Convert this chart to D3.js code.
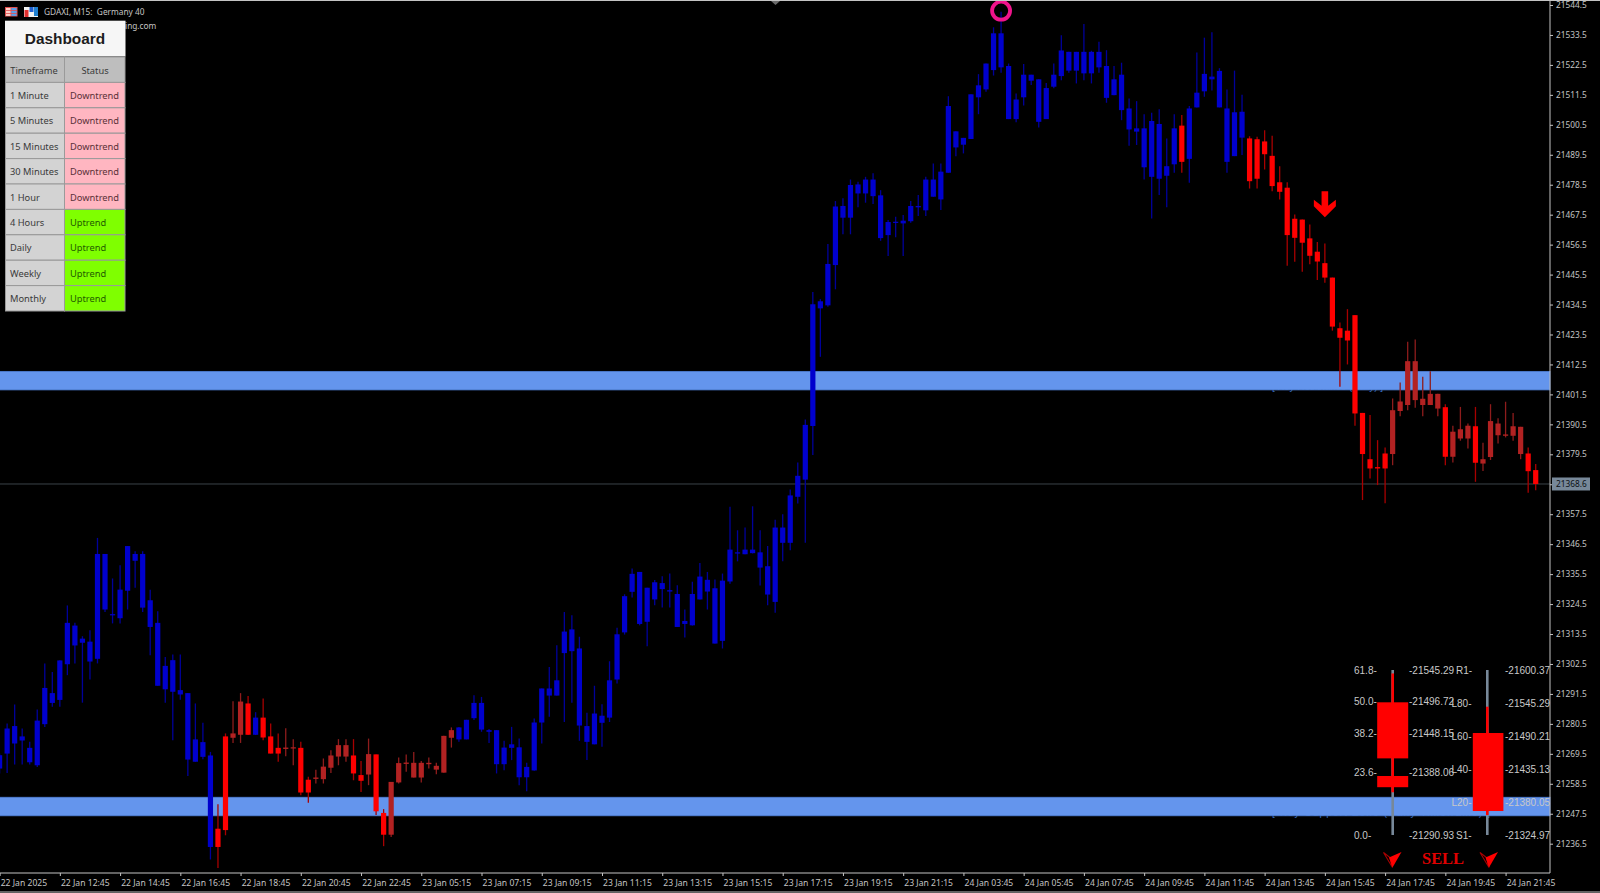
<!DOCTYPE html>
<html><head><meta charset="utf-8">
<script src="https://cdn.jsdelivr.net/npm/d3@7"></script>
<style>html,body{margin:0;padding:0;background:#000;overflow:hidden}svg{display:block}</style>
</head><body><svg id="c" width="1600" height="893" font-family="'Liberation Sans',Arial,sans-serif"></svg>
<script>
// Candle data, one row of ten bars per line (15-minute bars, index 0..204)
const highs=[21269.6,21280.6,21287.6,21278.8,21273.9,21285.8,21302.7,21299.6,21303.9,21324.0,
21317.6,21312.7,21314.9,21348.8,21342.9,21333.9,21338.8,21345.8,21343.9,21343.9,
21329.8,21321.9,21305.1,21306.0,21306.0,21291.8,21288.0,21280.9,21270.2,21251.0,
21277.0,21288.8,21291.8,21290.7,21284.8,21289.8,21280.6,21277.0,21278.9,21274.9,
21273.9,21261.1,21263.7,21267.8,21270.8,21274.9,21274.9,21274.9,21266.9,21275.1,
21269.3,21249.2,21259.2,21268.2,21269.3,21270.2,21266.9,21268.2,21266.2,21276.1,
21279.2,21279.4,21282.0,21291.0,21290.4,21278.6,21278.2,21274.3,21279.4,21275.1,
21266.2,21282.5,21293.5,21301.4,21309.4,21321.6,21320.4,21312.5,21284.6,21294.5,
21287.7,21303.5,21315.8,21328.1,21337.6,21336.3,21330.5,21333.3,21334.7,21335.7,
21331.4,21322.5,21332.7,21339.6,21336.3,21333.5,21335.7,21360.2,21351.6,21352.6,
21360.4,21351.6,21345.8,21355.5,21357.5,21366.6,21376.5,21392.3,21439.1,21436.5,
21456.7,21472.5,21473.5,21480.4,21479.6,21481.4,21482.7,21476.5,21465.5,21466.7,
21467.4,21472.5,21474.7,21481.4,21486.3,21486.3,21511.0,21498.1,21495.7,21511.7,
21519.1,21523.0,21536.3,21542.0,21523.0,21512.0,21522.8,21518.9,21517.2,21515.9,
21523.0,21533.4,21527.3,21527.3,21537.5,21527.7,21531.0,21527.9,21522.1,21523.3,
21510.2,21509.2,21504.4,21504.9,21506.2,21495.5,21504.4,21504.1,21507.4,21527.1,
21532.5,21534.5,21521.3,21513.5,21520.4,21511.5,21496.3,21496.1,21498.5,21496.5,
21485.3,21479.4,21467.6,21465.7,21463.9,21457.5,21456.9,21444.4,21427.9,21432.8,
21430.6,21394.7,21393.9,21384.7,21382.0,21400.0,21405.9,21420.8,21421.7,21408.0,
21410.0,21401.7,21397.9,21390.0,21396.9,21390.8,21396.9,21383.7,21397.9,21392.7,
21398.8,21394.7,21389.6,21382.0,21375.9];
const bodyTops=[21269.0,21278.8,21279.7,21275.9,21271.7,21281.7,21293.7,21291.8,21303.8,21317.6,
21316.6,21311.8,21310.7,21342.9,21342.9,21320.8,21329.8,21345.8,21342.9,21342.9,
21325.9,21317.6,21301.8,21303.9,21292.9,21291.8,21274.8,21273.8,21268.9,21242.0,
21275.9,21277.0,21288.7,21288.0,21282.8,21282.8,21275.9,21271.7,21271.8,21271.9,
21271.7,21260.0,21260.8,21264.8,21268.9,21272.7,21272.7,21268.9,21261.7,21269.4,
21269.3,21247.8,21259.2,21266.1,21266.3,21266.2,21266.2,21266.2,21265.1,21276.1,
21278.2,21279.2,21282.0,21288.2,21288.2,21278.2,21278.2,21271.8,21273.0,21271.9,
21264.7,21281.0,21293.5,21293.5,21296.5,21314.4,21315.2,21308.2,21279.7,21284.3,
21283.5,21296.5,21313.4,21327.4,21335.6,21336.3,21330.5,21332.5,21332.2,21329.6,
21328.2,21318.3,21328.2,21334.6,21333.4,21330.3,21333.1,21344.5,21343.5,21344.5,
21344.5,21343.5,21338.4,21352.6,21352.6,21364.4,21371.6,21390.3,21434.6,21435.7,
21449.4,21470.5,21470.7,21478.4,21478.6,21480.4,21480.4,21474.6,21464.8,21464.9,
21465.3,21470.7,21470.7,21480.4,21480.4,21483.3,21507.4,21498.1,21495.7,21511.7,
21515.0,21523.0,21534.1,21534.1,21522.1,21509.8,21518.9,21518.9,21517.2,21514.0,
21518.9,21527.8,21527.3,21527.3,21527.3,21527.3,21527.3,21522.1,21517.2,21518.9,
21506.5,21499.2,21499.2,21501.9,21500.8,21485.3,21499.2,21500.2,21506.5,21512.3,
21519.2,21518.2,21520.3,21506.5,21505.1,21505.3,21495.5,21495.2,21494.4,21489.1,
21479.4,21477.4,21466.0,21465.7,21458.8,21453.9,21449.7,21444.4,21425.8,21424.9,
21430.6,21394.7,21377.7,21374.8,21379.8,21395.7,21398.9,21413.7,21413.7,21399.9,
21401.7,21401.7,21396.8,21387.8,21388.7,21390.0,21389.8,21377.7,21391.7,21390.8,
21386.8,21389.8,21389.6,21379.8,21373.7];
const bodyBottoms=[21264.1,21269.6,21273.3,21274.4,21266.4,21265.3,21280.4,21288.2,21289.3,21302.4,
21309.3,21310.3,21303.4,21304.4,21322.5,21320.4,21319.3,21329.4,21340.4,21323.2,
21316.1,21294.5,21293.2,21292.3,21291.3,21267.4,21266.6,21268.4,21235.3,21235.3,
21241.5,21275.4,21276.5,21276.5,21276.5,21275.5,21269.6,21269.6,21271.3,21271.5,
21255.3,21255.3,21260.3,21260.2,21264.4,21268.5,21268.5,21262.3,21259.6,21261.9,
21248.4,21239.8,21239.8,21259.0,21265.8,21260.8,21260.8,21265.7,21263.7,21262.6,
21275.4,21274.8,21274.8,21282.6,21278.4,21277.6,21265.7,21265.7,21271.7,21260.9,
21260.9,21263.4,21281.0,21290.9,21290.9,21306.5,21307.2,21279.9,21273.9,21273.0,
21280.9,21282.8,21296.8,21314.1,21329.0,21317.2,21318.0,21326.2,21330.0,21329.1,
21316.1,21317.2,21316.7,21326.2,21329.1,21310.0,21311.0,21332.8,21343.1,21342.8,
21343.2,21337.9,21328.0,21325.3,21347.0,21347.0,21363.9,21370.2,21389.9,21433.1,
21434.2,21449.0,21466.4,21466.4,21475.3,21475.3,21474.3,21458.9,21460.0,21464.5,
21464.3,21465.1,21470.2,21469.1,21474.1,21473.1,21482.9,21492.2,21493.2,21495.3,
21510.6,21513.5,21520.6,21521.6,21502.6,21502.6,21510.6,21516.7,21501.6,21502.6,
21514.5,21518.4,21520.4,21520.4,21519.4,21519.4,21521.6,21510.4,21511.4,21505.9,
21498.8,21498.0,21484.9,21481.4,21480.7,21481.8,21486.0,21486.9,21488.0,21506.9,
21512.8,21517.2,21506.9,21486.9,21489.0,21495.8,21479.8,21480.7,21489.7,21478.0,
21475.9,21460.0,21459.0,21457.2,21452.4,21450.3,21444.4,21426.4,21422.3,21421.3,
21394.5,21379.6,21374.3,21374.3,21374.3,21379.6,21395.4,21397.6,21399.4,21397.6,
21397.6,21396.3,21378.6,21378.6,21385.3,21385.3,21376.4,21376.1,21378.5,21386.5,
21386.3,21386.3,21379.6,21373.3,21368.6];
const lows=[21262.3,21262.5,21265.6,21265.6,21265.6,21264.7,21279.4,21286.8,21286.8,21298.4,
21302.7,21288.3,21296.8,21302.7,21321.6,21317.4,21317.4,21322.5,21330.5,21321.6,
21305.7,21294.5,21288.3,21274.5,21289.4,21261.4,21266.6,21267.5,21230.7,21227.6,
21239.6,21273.5,21273.5,21276.4,21276.4,21274.5,21269.6,21266.6,21268.6,21265.3,
21254.3,21251.5,21258.6,21258.6,21262.5,21265.3,21266.6,21259.8,21255.5,21258.0,
21247.0,21235.6,21239.0,21258.6,21262.9,21260.8,21259.0,21264.1,21262.0,21262.6,
21271.8,21273.9,21274.8,21281.9,21277.6,21273.5,21262.3,21263.5,21267.2,21258.0,
21255.8,21263.3,21273.3,21283.1,21290.9,21281.2,21288.3,21274.3,21267.2,21273.0,
21272.1,21281.2,21295.3,21313.3,21326.9,21316.7,21309.0,21324.1,21323.2,21323.2,
21316.1,21312.2,21316.6,21326.2,21322.5,21310.0,21308.2,21332.0,21340.2,21342.8,
21343.1,21331.3,21324.1,21321.3,21340.2,21344.3,21361.4,21347.0,21379.2,21415.3,
21433.7,21440.1,21460.3,21460.3,21470.2,21471.9,21471.4,21457.9,21452.3,21459.2,
21452.3,21464.5,21467.0,21467.0,21474.1,21469.2,21482.9,21489.0,21490.0,21495.3,
21504.4,21512.6,21518.6,21519.6,21502.6,21501.4,21507.6,21515.1,21499.5,21502.6,
21513.9,21516.9,21519.6,21515.7,21516.9,21515.7,21519.6,21508.6,21511.4,21502.2,
21492.8,21493.1,21480.4,21466.1,21474.7,21470.2,21482.9,21482.9,21479.2,21506.9,
21510.8,21513.1,21506.9,21482.9,21489.0,21489.4,21477.1,21477.1,21484.1,21476.1,
21473.1,21448.7,21450.2,21446.5,21449.3,21443.5,21442.5,21424.9,21404.3,21412.5,
21390.0,21362.7,21370.6,21368.2,21361.5,21375.5,21393.5,21395.7,21396.6,21393.5,
21397.6,21393.5,21375.5,21376.5,21384.5,21381.6,21369.4,21373.4,21377.4,21383.5,
21385.7,21384.5,21377.7,21365.4,21366.3];
// Trend state per bar: b = bull, r = bear, w = weak bear
const trendRuns=[["b",29],["r",2],["w",2],["r",1],["b",1],["r",3],["w",2],["r",2],["w",5],["r",2],["w",1],["r",2],["w",9],
["b",96],["r",1],["b",8],["r",19],["w",7],["r",1],["w",3],["r",1],["w",6],["r",2]];
const trends=trendRuns.flatMap(([s,n])=>Array(n).fill(s));

const priceTicks=[21544.5,21533.5,21522.5,21511.5,21500.5,21489.5,21478.5,21467.5,21456.5,21445.5,21434.5,21423.5,21412.5,21401.5,21390.5,21379.5,21368.5,21357.5,21346.5,21335.5,21324.5,21313.5,21302.5,21291.5,21280.5,21269.5,21258.5,21247.5,21236.5];
const timeLabels=["22 Jan 2025","22 Jan 12:45","22 Jan 14:45","22 Jan 16:45","22 Jan 18:45","22 Jan 20:45","22 Jan 22:45","23 Jan 05:15","23 Jan 07:15","23 Jan 09:15","23 Jan 11:15","23 Jan 13:15","23 Jan 15:15","23 Jan 17:15","23 Jan 19:15","23 Jan 21:15","24 Jan 03:45","24 Jan 05:45","24 Jan 07:45","24 Jan 09:45","24 Jan 11:45","24 Jan 13:45","24 Jan 15:45","24 Jan 17:45","24 Jan 19:45","24 Jan 21:45"];
const barsPerLabel=8;
const lastPrice=21368.6;
const zones=[[21410.1,21403.0],[21253.7,21246.6]];
const topSwingBar=133, signalBar=176;

const dashTimeframes=["1 Minute","5 Minutes","15 Minutes","30 Minutes","1 Hour","4 Hours","Daily","Weekly","Monthly"];
const dashStatus=["Downtrend","Downtrend","Downtrend","Downtrend","Downtrend","Uptrend","Uptrend","Uptrend","Uptrend"];

const fibLevels=[61.8,50.0,38.2,23.6,0.0];
const fibPrices=["21545.29","21496.72","21448.15","21388.06","21290.93"];
const fibBodies=[[49.7,28.7],[22.1,17.9]];
const fibWickRange=[60.5,16];
const pivotNames=["R1","L80","L60","L40","L20","S1"];
const pivotPrices=[21600.37,21545.29,21490.21,21435.13,21380.05,21324.97];
const pivotBody=[21495.2,21365];
const pivotWickRange=[21539.1,21358.4];

// Layout
const svg=d3.select("#c");
const W=1600,H=893,plotR=1550,plotB=873;
const x=d3.scaleLinear().domain([0,204]).range([-0.4,1535.7]);
const y=d3.scaleLinear().domain([21544.5,21236.5]).range([5,843.7]);
const COL={b:{body:"#0000cd",wick:"#00009a"},r:{body:"#ff0000",wick:"#a80000"},w:{body:"#b22222",wick:"#8e1c1c"}};
const GREY="#c4c4c4",UI="'Noto Sans'";

svg.append("rect").attr("width",W).attr("height",H).attr("fill","#000");

// labels almost fully hidden by the zones; only their lowest pixels show
const labelG=svg.append("g").attr("font-size",10).attr("fill","#3566b8");
labelG.append("text").attr("x",1272).attr("y",y(zones[0][1])-0.4).text("[ Key Resistance (Daily) ]").attr("textLength",111);
labelG.append("text").attr("x",1272).attr("y",y(zones[1][1])-0.4).text("[ Key Support Zone (Daily Timeframe) ]").attr("textLength",218);

// last price line
svg.append("line").attr("x1",0).attr("x2",plotR).attr("y1",y(lastPrice)).attr("y2",y(lastPrice)).attr("stroke","#3b4248").attr("stroke-width",1);

// zones
svg.append("g").selectAll("rect").data(zones).join("rect")
 .attr("x",-1).attr("width",plotR+1).attr("y",d=>y(d[0])+0.4).attr("height",d=>y(d[1])-y(d[0])-0.8)
 .attr("fill","#6495ed").attr("stroke","#4f7fd6").attr("stroke-width",0.8);

// candles
const bars=d3.range(highs.length).map(i=>({i,h:highs[i],t:bodyTops[i],b:bodyBottoms[i],l:lows[i],s:trends[i]}));
const g=svg.append("g");
g.selectAll("line").data(bars).join("line")
 .attr("x1",d=>x(d.i)).attr("x2",d=>x(d.i)).attr("y1",d=>y(d.h)).attr("y2",d=>y(d.l))
 .attr("stroke",d=>COL[d.s].wick).attr("stroke-width",1.3);
g.selectAll("rect").data(bars).join("rect")
 .attr("x",d=>x(d.i)-2.6).attr("width",5.2)
 .attr("y",d=>y(d.t)).attr("height",d=>Math.max(1.2,y(d.b)-y(d.t)))
 .attr("fill",d=>COL[d.s].body);

// top swing ring
svg.append("circle").attr("cx",x(topSwingBar)).attr("cy",10.7).attr("r",9).attr("fill","none").attr("stroke","#f0148c").attr("stroke-width",3.8);

// sell arrow
svg.append("path").attr("transform",`translate(${x(signalBar)},${y(highs[signalBar])-52.3})`)
 .attr("d","M-3.3,0L3.3,0L3.3,14.5L11,8.5L11,15L0,26L-11,15L-11,8.5L-3.3,14.5Z").attr("fill","#ff0000");

// frame
svg.append("line").attr("x1",0).attr("x2",W).attr("y1",0.5).attr("y2",0.5).attr("stroke",GREY).attr("stroke-width",1.2);
svg.append("path").attr("d","M771,1L780,1L775.5,5Z").attr("fill","#6a6a6a");

// price axis
const yAxis=d3.axisRight(y).tickValues(priceTicks).tickSize(3).tickPadding(3).tickFormat(d3.format(".1f"));
const ya=svg.append("g").attr("transform",`translate(${plotR},0)`).call(yAxis);
ya.select(".domain").remove();
ya.selectAll("line").attr("stroke",GREY);
ya.selectAll("text").attr("fill",GREY).attr("font-size",8.3).attr("font-family",UI);
svg.append("line").attr("x1",plotR).attr("x2",plotR).attr("y1",0).attr("y2",plotB).attr("stroke",GREY).attr("stroke-width",1);

// time axis
const timeTicks=timeLabels.map((_,k)=>k*barsPerLabel);
const xAxis=d3.axisBottom(x).tickValues(timeTicks).tickSize(3).tickFormat((d,k)=>timeLabels[k]);
const xa=svg.append("g").attr("transform",`translate(0,${plotB})`).call(xAxis);
xa.select(".domain").remove();
xa.selectAll("line").attr("stroke",GREY);
xa.selectAll("text").attr("fill",GREY).attr("font-size",8.6).attr("font-family",UI)
  .attr("text-anchor","start").attr("dx",0.6).attr("y",6.5).attr("dy","0.71em");
svg.append("line").attr("x1",0).attr("x2",plotR).attr("y1",plotB).attr("y2",plotB).attr("stroke",GREY).attr("stroke-width",1);
svg.append("line").attr("x1",0).attr("x2",W).attr("y1",892).attr("y2",892).attr("stroke",GREY).attr("stroke-width",1);

// last price label
svg.append("rect").attr("x",1552).attr("y",y(lastPrice)-6.5).attr("width",38).attr("height",13).attr("fill","#778899");
svg.append("text").attr("x",1556).attr("y",y(lastPrice)+3).attr("font-size",8.3).attr("font-family",UI).attr("fill","#0b0f14").text(lastPrice.toFixed(1));

// window header
const hdr=svg.append("g");
hdr.append("rect").attr("x",5).attr("y",7).attr("width",12.5).attr("height",9.5).attr("fill","#e05050");
[0,1,2].forEach(r=>{hdr.append("rect").attr("x",6).attr("y",8+r*2.9).attr("width",4.5).attr("height",2.1).attr("fill","#ffd0c8");hdr.append("rect").attr("x",11.3).attr("y",8+r*2.9).attr("width",5.3).attr("height",2.1).attr("fill","#5aa0e8");});
hdr.append("rect").attr("x",24).attr("y",7).attr("width",14).attr("height",10).attr("fill","#f2f2f2");
hdr.append("rect").attr("x",24.5).attr("y",10).attr("width",4).attr("height",7).attr("fill","#e03030");
hdr.append("rect").attr("x",29.5).attr("y",7).attr("width",4).attr("height",5).attr("fill","#2060d0");
hdr.append("rect").attr("x",34).attr("y",7).attr("width",4).attr("height",9).attr("fill","#2080d0");
hdr.append("text").attr("x",44).attr("y",15).attr("font-size",8.3).attr("font-family",UI).attr("fill",GREY).text("GDAXI, M15:\u00a0\u00a0Germany 40");
hdr.append("text").attr("x",125).attr("y",29).attr("font-size",8.3).attr("font-family",UI).attr("fill",GREY).text("ing.com");

// dashboard
const dash=svg.append("g");
dash.append("rect").attr("x",5).attr("y",20.7).attr("width",120.5).attr("height",35.8).attr("fill","#f6f6f6");
dash.append("text").attr("x",65).attr("y",44).attr("text-anchor","middle").attr("font-size",15.4).attr("font-weight",700).attr("fill","#1c1c1c").text("Dashboard");
const rowY=d3.scaleLinear().domain([0,1]).range([57,82.4]);
const cell=(xp,w,r,fill,txt,tx,anchor,tc)=>{
 dash.append("rect").attr("x",xp).attr("y",rowY(r)).attr("width",w).attr("height",25.4).attr("fill",fill).attr("stroke","#9a9a9a").attr("stroke-width",1);
 dash.append("text").attr("x",tx).attr("y",rowY(r)+16.6).attr("text-anchor",anchor).attr("font-size",9.3).attr("font-family",UI).attr("fill",tc).text(txt);
};
cell(5.5,59,0,"#bebebe","Timeframe",34,"middle","#3a3a3a");
cell(64.5,60.5,0,"#bebebe","Status",95,"middle","#3a3a3a");
dashTimeframes.forEach((t,k)=>{
 cell(5.5,59,k+1,"#d3d3d3",t,10,"start","#3a3a3a");
 const up=dashStatus[k]==="Uptrend";
 cell(64.5,60.5,k+1,up?"#7fff00":"#ffb6c1",dashStatus[k],70,"start",up?"#1f5a00":"#5a3038");
});

// fib / pivot panels
const panel=svg.append("g");
const fibY=d3.scaleLinear().domain([0,61.8]).range([835,670]);
const pivY=d3.scaleLinear().domain([21324.97,21600.37]).range([835,670]);
const cx1=1392.7,cx2=1487.3,SLATE="#778899";
panel.append("rect").attr("x",cx1-1.3).attr("width",2.6).attr("y",fibY(61.8)).attr("height",fibY(0)-fibY(61.8)).attr("fill",SLATE);
panel.append("rect").attr("x",cx1-1.3).attr("width",2.6).attr("y",fibY(fibWickRange[0])).attr("height",fibY(fibWickRange[1])-fibY(fibWickRange[0])).attr("fill","#ff0000");
panel.selectAll(".fb").data(fibBodies).join("rect").attr("class","fb").attr("x",cx1-15.5).attr("width",31)
 .attr("y",d=>fibY(d[0])).attr("height",d=>fibY(d[1])-fibY(d[0])).attr("fill","#ff0000");
panel.append("rect").attr("x",cx2-1.3).attr("width",2.6).attr("y",pivY(21600.37)).attr("height",pivY(21324.97)-pivY(21600.37)).attr("fill",SLATE);
panel.append("rect").attr("x",cx2-1.3).attr("width",2.6).attr("y",pivY(pivotWickRange[0])).attr("height",pivY(pivotWickRange[1])-pivY(pivotWickRange[0])).attr("fill","#ff0000");
panel.append("rect").attr("x",cx2-14.5).attr("width",30.6).attr("y",pivY(pivotBody[0])).attr("height",pivY(pivotBody[1])-pivY(pivotBody[0])).attr("fill","#ff0000");
const txt=(xp,yp,s)=>panel.append("text").attr("x",xp).attr("y",yp+3.6).attr("font-size",10).attr("fill","#c8c8c8").text(s);
fibLevels.forEach((v,k)=>{const yp=fibY(v);txt(1354,yp,v.toFixed(1)+"-");txt(1409,yp,"-"+fibPrices[k]);});
pivotNames.forEach((n,k)=>{const yp=pivY(pivotPrices[k]);txt(n.length===2?1456:1451.5,yp,n+"-");txt(1505,yp,"-"+pivotPrices[k].toFixed(2));});

// sell marks
const dart=(cx)=>{const t=panel.append("g").attr("transform",`translate(${cx},860)`);
 t.append("path").attr("d","M-9,-7.5L-2.5,-2.5L0,7.5Z").attr("fill","none").attr("stroke","#a80000").attr("stroke-width",1.1);
 t.append("path").attr("d","M9,-8L-3.5,-2.5L0,7.5Z").attr("fill","#ff0000");};
dart(1392.5);dart(1489);
panel.append("text").attr("x",1443).attr("y",864).attr("text-anchor","middle").attr("font-size",16.4).attr("font-weight",700).attr("font-family","'Liberation Serif'").attr("fill","#e00000").text("SELL");
</script></body></html>
